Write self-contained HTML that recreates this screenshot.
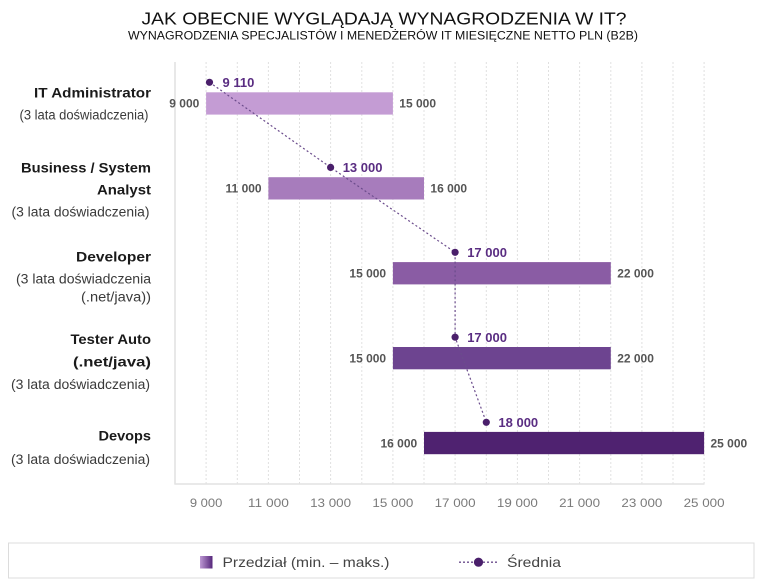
<!DOCTYPE html>
<html>
<head>
<meta charset="utf-8">
<style>
  html,body{margin:0;padding:0;background:#fff;}
  svg{display:block;}
  text{font-family:"Liberation Sans","DejaVu Sans",sans-serif;}
</style>
</head>
<body>
<svg width="760" height="583" viewBox="0 0 760 583" xmlns="http://www.w3.org/2000/svg">
  <defs>
    <linearGradient id="lg" x1="0" y1="0" x2="1" y2="0">
      <stop offset="0" stop-color="#bd98d3"/>
      <stop offset="1" stop-color="#56277b"/>
    </linearGradient>
  </defs>
  <rect x="0" y="0" width="760" height="583" fill="#fff"/>

  <!-- Title -->
  <text x="141.5" y="24.5" font-size="17.5" fill="#111" textLength="485" lengthAdjust="spacingAndGlyphs">JAK OBECNIE WYGLĄDAJĄ WYNAGRODZENIA W IT?</text>
  <text x="128" y="39.5" font-size="11.5" fill="#111" textLength="510" lengthAdjust="spacingAndGlyphs">WYNAGRODZENIA SPECJALISTÓW I MENEDŻERÓW IT MIESIĘCZNE NETTO PLN (B2B)</text>

  <!-- Grid -->
  <g stroke="#e0e0e0" stroke-width="1" stroke-dasharray="2 2">
    <line x1="206.1" y1="62" x2="206.1" y2="484"/>
    <line x1="237.3" y1="62" x2="237.3" y2="484"/>
    <line x1="268.4" y1="62" x2="268.4" y2="484"/>
    <line x1="299.5" y1="62" x2="299.5" y2="484"/>
    <line x1="330.6" y1="62" x2="330.6" y2="484"/>
    <line x1="361.8" y1="62" x2="361.8" y2="484"/>
    <line x1="392.9" y1="62" x2="392.9" y2="484"/>
    <line x1="424.0" y1="62" x2="424.0" y2="484"/>
    <line x1="455.1" y1="62" x2="455.1" y2="484"/>
    <line x1="486.3" y1="62" x2="486.3" y2="484"/>
    <line x1="517.4" y1="62" x2="517.4" y2="484"/>
    <line x1="548.5" y1="62" x2="548.5" y2="484"/>
    <line x1="579.6" y1="62" x2="579.6" y2="484"/>
    <line x1="610.8" y1="62" x2="610.8" y2="484"/>
    <line x1="641.9" y1="62" x2="641.9" y2="484"/>
    <line x1="673.0" y1="62" x2="673.0" y2="484"/>
    <line x1="704.1" y1="62" x2="704.1" y2="484"/>
  </g>
  <line x1="175" y1="62" x2="175" y2="484.5" stroke="#e2e2e2" stroke-width="1.6"/>
  <line x1="174.5" y1="484" x2="704.5" y2="484" stroke="#e2e2e2" stroke-width="1.4"/>

  <!-- Bars -->
  <rect x="206.1" y="92.3" width="186.8" height="22.3" fill="#c49cd4"/>
  <rect x="268.4" y="177.2" width="155.6" height="22.3" fill="#a77cbc"/>
  <rect x="392.9" y="262.1" width="217.9" height="22.3" fill="#8a5ca4"/>
  <rect x="392.9" y="347.0" width="217.9" height="22.3" fill="#6d4490"/>
  <rect x="424.0" y="431.9" width="280.1" height="22.3" fill="#4f2270"/>

  <!-- Range labels -->
  <g font-size="12" font-weight="bold" fill="#555">
    <text x="199.3" y="107.7" text-anchor="end">9 000</text>
    <text x="399.3" y="107.7">15 000</text>
    <text x="261.6" y="192.6" text-anchor="end">11 000</text>
    <text x="430.4" y="192.6">16 000</text>
    <text x="386.1" y="277.5" text-anchor="end">15 000</text>
    <text x="617.2" y="277.5">22 000</text>
    <text x="386.1" y="362.4" text-anchor="end">15 000</text>
    <text x="617.2" y="362.4">22 000</text>
    <text x="417.2" y="447.3" text-anchor="end">16 000</text>
    <text x="710.5" y="447.3">25 000</text>
  </g>

  <!-- Mean line -->
  <polyline points="209.5,82.3 330.6,167.4 455.1,252.3 455.1,337.2 486.3,422.3" fill="none" stroke="#6b4c8c" stroke-width="1.2" stroke-dasharray="2 2.4"/>
  <g fill="#4a1f6b">
    <circle cx="209.5" cy="82.3" r="3.6"/>
    <circle cx="330.6" cy="167.4" r="3.6"/>
    <circle cx="455.1" cy="252.3" r="3.6"/>
    <circle cx="455.1" cy="337.2" r="3.6"/>
    <circle cx="486.3" cy="422.3" r="3.6"/>
  </g>
  <g font-size="13" font-weight="bold" fill="#5a2d82">
    <text x="222.5" y="86.9">9 110</text>
    <text x="342.7" y="172">13 000</text>
    <text x="467.2" y="256.9">17 000</text>
    <text x="467.2" y="341.8">17 000</text>
    <text x="498.4" y="426.9">18 000</text>
  </g>

  <!-- Category labels -->
  <g text-anchor="end">
    <g font-size="14" font-weight="bold" fill="#1a1a1a">
      <text x="151" y="97.3" textLength="117" lengthAdjust="spacingAndGlyphs">IT Administrator</text>
      <text x="151" y="172.7" textLength="130" lengthAdjust="spacingAndGlyphs">Business / System</text>
      <text x="151" y="194.5" textLength="54" lengthAdjust="spacingAndGlyphs">Analyst</text>
      <text x="151" y="261.7" textLength="75" lengthAdjust="spacingAndGlyphs">Developer</text>
      <text x="151" y="344" textLength="80.5" lengthAdjust="spacingAndGlyphs">Tester Auto</text>
      <text x="151" y="366.7" textLength="78" lengthAdjust="spacingAndGlyphs">(.net/java)</text>
      <text x="151" y="440.7" textLength="52.5" lengthAdjust="spacingAndGlyphs">Devops</text>
    </g>
    <g font-size="13.5" fill="#3a3a3a">
      <text x="148.5" y="119.3" textLength="129" lengthAdjust="spacingAndGlyphs">(3 lata doświadczenia)</text>
      <text x="149.5" y="216.7" textLength="138" lengthAdjust="spacingAndGlyphs">(3 lata doświadczenia)</text>
      <text x="151" y="283.5" textLength="135" lengthAdjust="spacingAndGlyphs">(3 lata doświadczenia</text>
      <text x="151" y="301.5" textLength="70" lengthAdjust="spacingAndGlyphs">(.net/java))</text>
      <text x="150" y="389" textLength="139" lengthAdjust="spacingAndGlyphs">(3 lata doświadczenia)</text>
      <text x="150" y="464" textLength="139" lengthAdjust="spacingAndGlyphs">(3 lata doświadczenia)</text>
    </g>
  </g>

  <!-- X axis tick labels -->
  <g font-size="11.5" fill="#7a7a7a" text-anchor="middle">
    <text x="206.1" y="507" textLength="32.5" lengthAdjust="spacingAndGlyphs">9 000</text>
    <text x="268.4" y="507" textLength="41" lengthAdjust="spacingAndGlyphs">11 000</text>
    <text x="330.6" y="507" textLength="41" lengthAdjust="spacingAndGlyphs">13 000</text>
    <text x="392.9" y="507" textLength="41" lengthAdjust="spacingAndGlyphs">15 000</text>
    <text x="455.1" y="507" textLength="41" lengthAdjust="spacingAndGlyphs">17 000</text>
    <text x="517.4" y="507" textLength="41" lengthAdjust="spacingAndGlyphs">19 000</text>
    <text x="579.6" y="507" textLength="41" lengthAdjust="spacingAndGlyphs">21 000</text>
    <text x="641.9" y="507" textLength="41" lengthAdjust="spacingAndGlyphs">23 000</text>
    <text x="704.1" y="507" textLength="41" lengthAdjust="spacingAndGlyphs">25 000</text>
  </g>

  <!-- Legend -->
  <rect x="8.5" y="543" width="745.5" height="35" fill="#fff" stroke="#dcdcdc" stroke-width="1"/>
  <rect x="200" y="556" width="12.5" height="12.5" fill="url(#lg)"/>
  <text x="222.5" y="566.8" font-size="14" fill="#444" textLength="167" lengthAdjust="spacingAndGlyphs">Przedział (min. – maks.)</text>
  <line x1="459" y1="562.2" x2="497" y2="562.2" stroke="#6b4c8c" stroke-width="1.3" stroke-dasharray="2 2"/>
  <circle cx="478.5" cy="562.2" r="4.6" fill="#4a1f6b"/>
  <text x="507" y="566.8" font-size="14" fill="#444" textLength="54" lengthAdjust="spacingAndGlyphs">Średnia</text>
</svg>
</body>
</html>
